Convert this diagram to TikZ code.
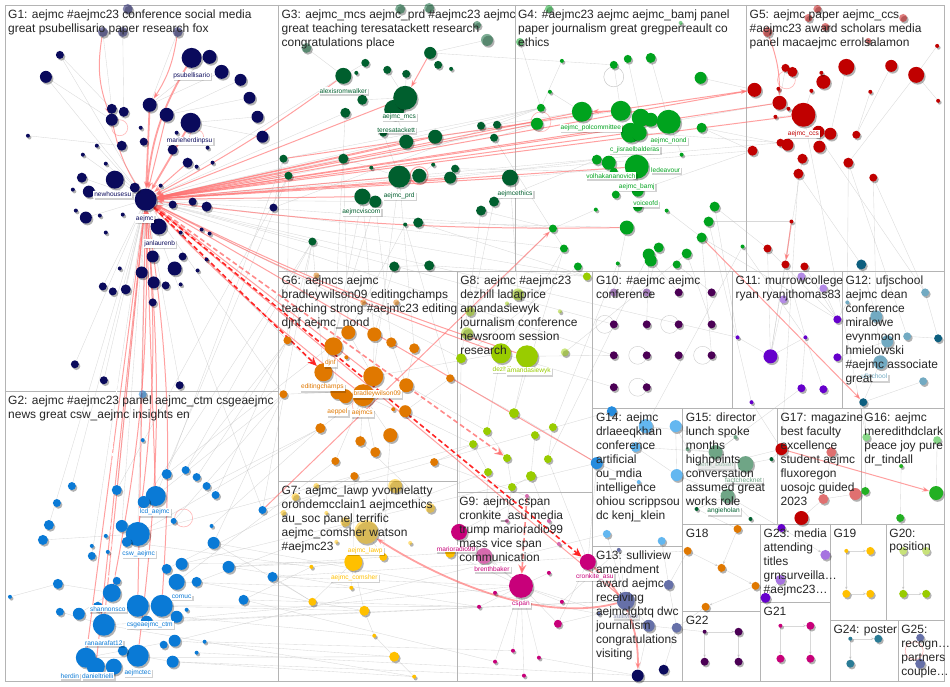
\documentclass[tikz,border=0pt]{standalone}
\usepackage{fontspec}
\setmainfont{Liberation Sans}
\usetikzlibrary{arrows.meta,shadows}
\pgfdeclarelayer{bg}\pgfdeclarelayer{edges}\pgfdeclarelayer{top}
\pgfsetlayers{bg,edges,main,top}
\definecolor{cA}{HTML}{0A0A5C}
\definecolor{cB}{HTML}{0A7AD6}
\definecolor{cC}{HTML}{005F2E}
\definecolor{cD}{HTML}{00A31E}
\definecolor{cE}{HTML}{C00000}
\definecolor{cF}{HTML}{E07800}
\definecolor{cG}{HTML}{FFC000}
\definecolor{cGl}{HTML}{FFD966}
\definecolor{cH}{HTML}{99CC00}
\definecolor{cHl}{HTML}{C8E27A}
\definecolor{cI}{HTML}{C8007A}
\definecolor{cIl}{HTML}{D66AAE}
\definecolor{cJ}{HTML}{4B0055}
\definecolor{cJl}{HTML}{A27BB8}
\definecolor{cK}{HTML}{6600CC}
\definecolor{cKl}{HTML}{B38AE6}
\definecolor{cL}{HTML}{72AAC2}
\definecolor{cLd}{HTML}{0D5F7F}
\definecolor{cM}{HTML}{63B7F0}
\definecolor{cN}{HTML}{6FA586}
\definecolor{cO}{HTML}{E07070}
\definecolor{cP}{HTML}{22B022}
\definecolor{cPl}{HTML}{88D888}
\definecolor{cQ}{HTML}{6670A8}
\definecolor{cR}{HTML}{A673E0}
\definecolor{cS}{HTML}{2A7C96}
\definecolor{cRe}{HTML}{FF6E6E}
\definecolor{frame}{HTML}{B4B4B4}
\tikzset{
 dot/.style={circle, inner sep=0pt, draw=none, minimum size=2*#1pt,
   drop shadow={shadow xshift=1.5pt, shadow yshift=-1.8pt, opacity=.3, fill=black}},
 fdot/.style={dot=#1, fill opacity=.5},
 ge/.style={draw=gray!55, line width=.35pt, opacity=.55},
 gea/.style={ge, -{Stealth[length=3pt,width=2.5pt]}},
 re/.style={draw=cRe, line width=1pt, opacity=.65, -{Stealth[length=7pt,width=5pt]}},
 reth/.style={re, line width=1.8pt},
 rdash/.style={draw=red!85!white, line width=1.6pt, dashed, dash pattern=on 5pt off 3pt, -{Stealth[length=9pt,width=8pt]}},
 rdashl/.style={rdash, draw=cRe, opacity=.8},
 lbl/.style={fill=white, inner sep=1pt, font=\fontsize{6.6}{7}\selectfont,
   drop shadow={shadow xshift=1.3pt, shadow yshift=-1.5pt, opacity=.18, fill=black}},
 flbl/.style={lbl, fill opacity=.6, text opacity=.6},
 title/.style={anchor=north west, inner sep=0pt, align=left, font=\fontsize{12}{14}\selectfont, text=black!85},
 fr/.style={draw=frame, line width=.8pt}
}
\newcommand\grp[3][]{\foreach \nm/\px/\py/\rd in {#3} {\node[dot=\rd, fill=#2, #1] (\nm) at (\px,\py) {};}}
\newcommand\fgrp[2]{\foreach \nm/\px/\py/\rd in {#2} {\node[fdot=\rd, fill=#1] (\nm) at (\px,\py) {};}}
\newcommand\ged[1]{\foreach \ea/\eb in {#1} {\draw[ge] (\ea) -- (\eb);}}
\newcommand\geda[1]{\foreach \ea/\eb in {#1} {\draw[gea] (\ea) -- (\eb);}}
\begin{document}
\begin{tikzpicture}[x=1pt,y=-1pt]
\begin{pgfonlayer}{bg}
\path[fill=white,use as bounding box] (0,0) rectangle (950,688);
\draw[fr] (5,5) rectangle (946,683);
\draw[fr] (279,5) -- (279,683);
\draw[fr] (5,392) -- (279,392);
\draw[fr] (279,272) -- (946,272);
\draw[fr] (516,5) -- (516,272);
\draw[fr] (748,5) -- (748,272);
\draw[fr] (458,272) -- (458,683);
\draw[fr] (279,482) -- (458,482);
\draw[fr] (458,493) -- (594,493);
\draw[fr] (594,272) -- (594,683);
\draw[fr] (594,409) -- (946,409);
\draw[fr] (734,272) -- (734,409);
\draw[fr] (844,272) -- (844,409);
\draw[fr] (684,409) -- (684,683);
\draw[fr] (594,547) -- (684,547);
\draw[fr] (779,409) -- (779,525);
\draw[fr] (863,409) -- (863,525);
\draw[fr] (684,525) -- (946,525);
\draw[fr] (762,525) -- (762,683);
\draw[fr] (684,613) -- (762,613);
\draw[fr] (762,604) -- (832,604);
\draw[fr] (832,525) -- (832,683);
\draw[fr] (888,525) -- (888,622);
\draw[fr] (832,622) -- (946,622);
\draw[fr] (900,622) -- (900,683);
\end{pgfonlayer}

% ---------- G1
\fgrp{cA}{f1/128/9/5,f2/103/32/5,f3/123/32/5,f4/178/32/5}
\grp{cA}{hub/146/200/11,psub/192/58/10,a2/210/57/7,a3/222/72/7,a4/241/80/6,a5/250/98/6,a6/258/117/6,a7/263/137/6,a8/60/55/4,a9/46/77/6,a10/150/105/7,a11/112/109/5,a12/124/112/5,a13/112/120/6,a14/167/115/7,mher/191/123/10,a16/122/146/5,a17/144/142/4,a18/141/128/2,a19/173/150/5,a20/188/163/5,a21/197/167/2,a22/213/163/2,a23/208/148/2,a24/177/133/2,a25/28/136/2,a26/97/146/2,a27/83/155/2,a28/106/164/2,newh/115/180/9,a30/82/178/5,a31/89/192/6,a32/73/190/2,a33/161/186/2,a34/135/188/5,a35/193/202/4,a36/207/207/5,a37/173/205/4,a38/274/208/4,a39/86/218/6,a40/76/211/2,a41/100/216/2,jan/159/227/8,a43/123/215/2,a44/202/230/2,a45/210/234/2,a46/181/233/2,a47/153/257/6,a48/183/257/4,a49/175/269/7,a50/207/260/2,a51/198/271/2,a52/142/273/6,a53/154/283/6,a54/166/286/4,a55/181/285/2,a56/103/287/4,a57/113/292/4,a58/126/290/5,a59/120/269/2,a60/153/303/4,a61/75/365/4,a62/104/381/4,a63/180/386/4,a64/106/233/2}
% ---------- G2
\fgrp{cB}{b0/143/395/4}
\grp{cB}{b1/143/441/2,b2/167/475/5,b3/186/471/4,b4/197/478/4,b5/207/487/4,b6/216/496/4,b7/72/487/4,b8/57/504/4,b9/117/491/5,lcd/156/497/10,b11/144/503/6,b12/49/526/5,b13/43/541/5,b14/122/527/6,csw/138/535/12,b16/127/543/5,b17/174/522/3,b18/106/537/2,b19/92/547/2,b20/108/553/2,b21/92/557/4,b22/212/527/2,b23/214/544/6,b24/263/511/4,b25/182/565/6,b26/167/570/5,b27/177/583/8,b28/197/583/5,b29/229/568/6,b30/273/578/5,b31/58/585/5,b32/117/582/4,b33/10/598/2,shan/112/594/9,csge/138/607/11,b36/162/607/11,b37/244/601/5,b38/60/613/4,b39/79/615/6,b40/98/608/5,b41/187/611/2,b42/177/618/6,rana/104/626/11,b44/147/623/6,b45/175/642/6,b46/164/646/4,b47/205/643/2,b48/197/654/2,b49/173/663/6,herd/86/659/10,dan/96/668/9,b52/114/668/8,aejt/138/657/11,b54/123/652/5}
% ---------- G3
\fgrp{cC}{cf1/401/9/5,cf2/430/8/5,cf3/478/25/4,cf4/488/40/6,cf5/307/48/5}
\grp{cC}{c1/431/53/6,c2/439/65/4,c3/452/69/2,c4/366/63/4,c5/388/70/4,c6/407/74/4,alex/344/76/8,c8/357/73/2,c9/363/100/5,c11/395/110/10,mcs/406/98/12,c12/346/113/5,teres/407/142/7,c14/436/137/7,c15/482/126/4,c16/498/125/4,c17/495/138/4,c18/384/133/4,c19/344/159/5,c20/284/159/4,c21/289/176/4,prd/400/177/11,c23/420/176/7,c24/434/165/2,c25/456/169/4,c26/451/178/6,eth/511/178/8,c28/372/168/2,visc/363/197/8,c30/376/202/6,c31/482/211/5,c32/495/202/5,c33/419/223/5,c34/406/225/2,c35/313/242/4,c36/395/267/5,c37/430/266/5}
% ---------- G4
\fgrp{cD}{df1/550/9/4,df2/682/23/2,df3/521/42/4}
\grp{cD}{d1/563/61/2,d2/615/65/4,d3/629/59/4,d4/652/58/5,d5/702/78/6,d6/551/92/2,d7/542/108/4,polc/583/112/10,d9/538/124/6,d10/622/111/10,d11/642/118/9,d12/652/120/7,nond/670/122/12,d14/703/128/5,d15/632/133/10,d16/640/133/8,d17/598/160/5,d18/610/163/7,d19/683/155/2,bamj/638/167/12,d21/615/172/4,d22/639/191/6,d23/617/195/4,voic/639/207/5,d25/597/210/2,d26/668/211/2,d27/716/207/5,d28/710/222/5,d29/703/238/5,d30/744/247/2,d31/554/229/4,d32/628/228/7,d33/565/249/4,d34/660/248/5,d35/650/255/6,d36/688/254/5,d37/579/267/4,d38/619/264/2,d39/652/261/6,d40/678/265/4}
% ---------- G5
\fgrp{cE}{ef1/819/9/4,ef2/810/18/4,ef3/827/27/4,ef4/905/18/4,ef5/769/32/5,ef6/870/41/3}
\grp{cE}{e1/939/46/2,e2/848/67/8,e3/893/66/6,e4/918/75/8,e5/787/68/4,e6/794/72/5,e7/825/82/7,e8/823/73/2,e9/756/90/7,e10/780/89/2,e11/813/91/2,e12/872/92/2,e13/940/101/2,e14/781/103/7,e15/790/109/2,e16/777/117/2,ccs/805/115/12,e18/820/132/6,e19/832/134/6,e20/858/135/4,e21/782/143/4,e22/789/145/6,e23/821/147/6,e24/754/151/5,e25/804/159/5,e26/850/163/5,e27/800/174/5,e28/875/178/4,e29/793/222/2,e30/769/249/4,e31/787/265/4,e32/806/267/4}
% ---------- G6
\fgrp{cF}{hf1/317/276/3,hf2/364/303/3,hf3/397/303/3}
\grp{cF}{h1/349/333/7,h2/375/335/7,h3/334/347/9,h4/392/343/5,h5/415/349/5,h6/288/341/4,h7/347/358/2,djnf/324/373/9,h9/374/377/10,h10/407/386/7,h11/451/379/4,h12/284/395/4,edit/338/393/7,h14/346/397/7,brad/364/396/11,h16/406/412/6,h17/394/410/2,h18/391/436/7,h19/321/429/5,h20/361/442/5,h21/376/453/5,h22/336/462/4,h23/435/463/4,h24/355/477/4}
% ---------- G7
\fgrp{cG}{kf1/317/487/3,kf2/396/487/7,kf3/431/509/5,kf4/296/498/4,kf5/284/514/3,kf6/327/514/2,kf7/346/523/5,lawp/367/533/12,kf9/337/543/2,kf10/411/544/2}
\grp{cG}{k1/354/563/9,k2/384/558/4,k3/312/568/2,k4/352/589/2,k5/313/603/4,k6/365/612/5,k7/375/637/2,k8/395/658/5,k9/415/678/2,k10/451/554/5}
% ---------- G8
\fgrp{cH}{lf1/519/295/6,lf2/508/304/2,lf3/471/312/5,lf4/561/312/2,lf5/468/334/6,l4/566/353/4}
\grp{cH}{l1/462/359/5,l2/502/354/10,amand/528/357/11,l5/588/277/4,l6/515/414/5,l7/488/432/4,l8/536/436/4,l9/554/428/4,l10/474/445/4,l11/508/459/4,l12/549/460/4,l13/489/473/4,l14/532/477/5,l15/513/488/4}
% ---------- G9
\grp{cIl}{brent/485/557/8,m3/508/522/2,m4/528/497/2,m5/550/522/2,m6/560/545/2}
\grp{cI}{mario/460/533/8,cspan/522/587/12,cron/589/563/8,m9/550/574/2,m10/496/594/2,m11/480/608/2,m12/563/603/2,m13/559/625/4,m14/514/652/2,m15/496/663/2,m16/540/659/2,m17/525/677/2}
% ---------- G10
\grp{cJl}{p1/615/293/4,p2/648/293/4}
\grp{cJ}{p3/680/293/4,p4/713/293/4,p5/615/325/4,p6/648/325/4,p7/680/325/4,p8/713/325/4,p9/615/356/4,p10/648/356/4,p11/680/356/4,p12/713/356/4,p13/615/388/4,p14/648/388/4}
% ---------- G11
\grp{cKl}{qf1/803/277/4,qf2/825/289/4,qf3/785/300/4}
\grp{cK}{q1/839/320/4,q2/739/338/2,q3/807/338/2,q4/772/357/7,q5/839/358/4,q6/803/389/4,q7/825/390/4,q8/753/403/2}
% ---------- G12
\grp{cL}{r1/849/303/2,r2/927/293/4,r3/878/317/6,r4/889/342/6,r5/909/337/4,ufj/882/363/7,r7/925/382/4}
\grp{cLd}{r8/863/265/5,r9/940/339/4,r10/865/403/4}
% ---------- G14
\grp{cB!70!cM}{s1/613/412/5,s5/598/464/6}
\grp{cM}{s2/647/427/7,s3/677/427/6,s4/637/448/5,s6/678/476/6,s7/640/483/2,s8/608/535/4,s9/663/542/4}
% ---------- G15
\grp{cN}{t1/717/453/7,t2/747/465/8,t3/689/450/2,t4/737/438/2,t5/729/497/7}
\grp{cC}{t6/773/460/2,t7/698/510/2,t8/752/520/2}
% ---------- G17
\grp{cE}{u1/783/450/6,u5/803/519/7}
\grp{cO}{u2/833/453/5,u3/857/495/6,u4/825/500/5}
% ---------- G16
\grp{cPl}{v1/868/438/4,v2/939/441/4}
\grp{cP}{v3/903/467/2,v4/867/492/4,v5/938/494/7,v6/902/519/4}
% ---------- G13
\grp{cQ}{w1/620/551/2,w2/670/586/5,w3/627/602/9,w4/650/627/6,w5/678/629/5,w8/600/615/2}
\grp{cA}{w6/639/677/6,w7/665/671/5}
% ---------- small groups
\grp{cF}{x1/739/530/4,x2/689/552/4,x3/723/569/4,x4/757/587/4,x5/707/608/4}
\grp{cJ}{y1/706/633/2,y2/740/633/4,y3/706/663/4,y4/740/663/4}
\grp{cR}{z1/827/556/5,z2/782/581/5}
\grp{cK}{z3/767/599/5,z4/783/529/4}
\grp{cI}{aa1/782/627/2,aa2/812/627/4,aa3/782/660/4,aa4/812/660/4}
\grp{cG}{ab1/848/552/2,ab2/872/552/4,ab3/848/595/4,ab4/872/595/4}
\grp{cHl}{ac1/905/552/4,ac2/928/552/4}
\grp{cH}{ac3/905/595/4,ac4/928/595/4}
\grp{cS}{ad1/852/640/2,ad2/880/640/4,ad3/852/665/4}
\grp{cQ}{ae1/922/639/4,ae2/922/665/5}

% ---------- edges
\begin{pgfonlayer}{edges}
\ged{hub/c20,hub/c21,hub/c35,hub/alex,hub/c12,hub/c19,hub/d7,hub/d31,hub/e24,hub/h6,hub/h12,hub/l1,hub/l5,hub/csw,hub/b24,hub/p5,hub/q2,hub/p9,hub/c30,hub/d33,hub/e21}
\ged{a8/a11,a9/a13,a25/a16,a26/hub,a27/hub,a28/hub,a30/hub,a31/hub,a39/hub,a47/hub,a52/hub,a56/hub,a58/hub,a60/hub,a61/hub,a62/hub,a63/hub,a2/a10,a3/a10,a4/a14,a5/a14,a6/mher,a7/mher,a38/d7,a38/c20,f2/a11,f3/a12,f4/a10,a9/hub,a8/hub}
\ged{b24/c35,b23/h12,b30/k5,b37/k3,b29/k1,b22/h19,b6/h6,csw/l10,lcd/c21,csge/k6,b36/m11,b45/k8,b49/k9,b44/cspan,b27/h22,b28/l13,b25/s5,rana/w3,b2/c20,b3/c35,b4/h6,b5/h19,b17/h12,b9/hub,b7/hub,b12/hub,b13/csw,b31/shan,b38/rana,b39/shan,b33/b31,b24/s1,b30/x2,b23/w8,b37/m11,b29/k10,aejt/b49,herd/b45}
\ged{b2/h1,b3/h6,b9/c21,b11/c35,lcd/h12,b14/hub,csw/h19,b16/k3,b21/hub,b23/k5,b25/k1,b26/h24,b27/k4,b28/k6,b29/m11,b30/cspan,b37/m15,b42/k7,b44/w3,b45/s8,b47/m14,b48/w6,b49/m17,rana/k9,herd/k8}
\ged{c14/d10,c16/polc,c17/d9,eth/bamj,c31/d31,c32/d17,c33/d32,c35/h6,c34/h1,c30/djnf,visc/h3,prd/h9,c1/d2,c4/alex,c5/mcs,c6/mcs,c9/mcs,c11/teres,c18/prd,c24/c23,c20/d7,c21/d9,c19/prd,cf5/alex,cf4/c1,c36/c37,c37/l5,c36/h2}
\ged{c12/h3,c19/h1,c21/h6,c35/djnf,visc/h2,c30/h4,prd/h5,c33/l5,c34/h11,c31/l1,c32/lf5,eth/lf1,c26/d17,c25/d21,c15/d7,c17/d33}
\ged{d5/e9,nond/e14,d14/e24,d27/e30,d29/q1,d36/l4,d30/s2,d40/p4,d35/l12,d33/l6,d28/e29,d1/d7,d2/d10,d3/d11,d4/nond,d37/l1,d38/l9,d39/p3,df3/d7,d6/polc,d25/d31,d26/d29,d19/nond}
\ged{d31/lf3,d33/l2,d32/p1,d34/p2,d35/p6,d36/p8,d29/p12,d27/q2,d28/q8,d30/q3}
\ged{e2/e19,e3/e20,e4/e26,e28/r3,e29/q4,e30/q4,e31/q3,e32/q1,e26/r1,ccs/v1,ccs/r2,e27/u1,e1/e4,e13/e4,e12/e20,e5/e14,e10/e14,e11/ccs,e15/ccs,e16/ccs}
\ged{e24/d22,e21/d16,e22/d14,e30/q1,e25/q4,e27/r8,e28/r2,e26/r5}
\ged{q4/q2,q4/q3,q3/q6,q3/q7,q5/r4,q8/u1,q6/t1,qf3/q4,qf2/q1,q1/r1}
\ged{r3/ufj,r4/ufj,r5/r9,r2/r9,r7/r10,ufj/r10,r10/v1,r8/r3}
\ged{h1/h9,h2/h9,h3/edit,h4/h10,h5/h10,h11/h16,h18/brad,h19/brad,h20/brad,h21/brad,h22/brad,h23/l10,h24/k1,h6/djnf,h12/edit,h17/brad}
\ged{h9/l2,h10/l7,h16/l10,h18/k2,h20/kf3,h23/m4,h11/l6}
\ged{k1/k6,k6/k7,k7/k8,k8/k9,k5/k1,k3/k1,k4/k1,k10/cspan,k2/lawp}
\ged{l6/amand,l7/l11,l8/l14,l9/l12,l10/l13,l11/l15,l14/l15,l2/l7,l6/s5}
\ged{l1/mario,l13/brent,l15/m3,l12/cron,l14/m5,amand/p9,l2/p13}
\ged{cspan/m10,cspan/m11,cspan/m12,cspan/m13,cspan/m14,cspan/m15,cspan/m16,cspan/m17,cspan/m9,cron/m13,mario/m4,brent/cspan,mario/cspan}
\ged{m12/w1,m13/w8,cron/s5,cspan/w4,m16/w6}
\ged{s2/s4,s3/s6,s4/s6,s5/s7,s8/w3,s9/w2,w3/w4,w2/w5,w4/w6,w5/w7,w1/w3,s3/t3,s6/t5}
\ged{s2/t4,s6/u1,s4/t1,w2/x2,w5/x5,w4/y1,t5/z4,t7/x1}
\ged{t1/t3,t2/t5,t2/t6,t5/t7,t5/t8,u2/u4,u3/u4,u4/u5,v3/v6,v1/v4,v2/v5,t4/t1,u1/t6}
\geda{x2/x3,x3/x4,x4/x5,x1/x3,y1/y2,y1/y3,y2/y4,z4/z1,z2/z3,aa1/aa2,aa1/aa3,aa2/aa4,ab1/ab2,ab1/ab3,ab3/ab4,ac1/ac3,ac3/ac4,ad1/ad2,ad1/ad3}
\foreach \ea in {p5,p7,p10,p12,p14} {\draw[draw=gray!40, line width=.4pt] (\ea) ++(-9,0) circle (9);}
% red edges into hub
\foreach \ea in {prd,mcs,c14,eth,polc,d9,nond,bamj,e9,ccs,c26,h9,s5,w3,lcd,rana,csge,herd,dan,teres,visc,d15,e14,c21}
  {\draw[re] (\ea) -- (hub);}
\foreach \ea in {csw,shan,b36,aejt}
  {\draw[re] (\ea) to[bend right=6] (hub);}
\foreach \ea in {brad,amand,l2,d32,alex}
  {\draw[re] (\ea) to[bend left=4] (hub);}
\draw[reth] (psub) to[bend right=12] (hub);
\draw[reth] (a10) -- (hub);
\draw[reth] (mher) -- (hub);
\draw[re] (a14) -- (hub);
\draw[re] (a20) -- (hub);
\draw[re] (a13) to[bend right=10] (hub);
\draw[re] (f2) to[bend right=15] (a13);
\draw[re] (f4) to[bend left=12] (a10);
\draw[re] (c1) -- (mcs);
\draw[re] (d10) -- (polc);
\draw[re] (e29) -- (e31);
\draw[re] (ef5) to[bend left=10] (e14);
\draw[re] (d29) -- (r10);
\draw[re] (u1) -- (v5);
\draw[re] (c20) -- (e9);
\draw[re] (b24) -- (d31);
% dashed red edges
\draw[rdash] (hub) -- (djnf);
\draw[rdash] (hub) -- (cron);
\draw[rdashl] (m4) -- (cspan);
\draw[rdashl] (hub) -- (l11);
\draw[rdashl, draw=white, dash pattern=on 3pt off 4pt, line width=1pt, opacity=1] (hub) to[bend right=6] (shan);
% curves
\draw[reth] (w3) .. controls (540,625) and (440,580) .. (lawp);
\draw[reth] (cron) .. controls (620,590) and (640,620) .. (w6);
% self loops
\draw[draw=cRe, line width=1pt, opacity=.6] (c23) circle (9);
\draw[draw=cRe, line width=.6pt, opacity=.5] (a13) ++(8,8) circle (8);
\draw[draw=cRe, line width=.6pt, opacity=.5] (mher) ++(6,14) circle (7);
\draw[draw=cRe, line width=.6pt, opacity=.5] (e6) ++(-6,8) circle (9);
\draw[draw=cRe, line width=.6pt, opacity=.5] (d7) ++(0,14) circle (10);
\draw[draw=cRe, line width=.6pt, opacity=.5] (brad) ++(-2,10) circle (9);
\draw[draw=cRe, line width=.6pt, opacity=.5] (b17) ++(10,-3) circle (9);
\draw[draw=cRe, line width=.6pt, opacity=.5] (ae1) ++(-6,13) circle (9);
\draw[draw=gray!50, line width=.4pt] (d2) ++(0,12) circle (10);
\end{pgfonlayer}

% ---------- labels
\begin{pgfonlayer}{top}
\node[lbl, text=cA] (L1) at (192,76) {psubellisario};
\node[lbl, text=cA] (L2) at (190,141) {marieherdinpsu};
\node[lbl, text=cA] (L3) at (113,195) {newhousesu};
\node[lbl, text=cA] (L4) at (145,219) {aejmc};
\node[lbl, text=cA] (L5) at (160,244) {janlaurenb};
\node[lbl, text=cB] (L6) at (155,513) {lcd\_aejmc};
\node[lbl, text=cB] (L7) at (139,555) {csw\_aejmc};
\node[lbl, text=cB] (L8) at (108,610) {shannonsco};
\node[lbl, text=cB] (L9) at (182,598) {comuc};
\node[lbl, text=cB] (L10) at (150,626) {csgeaejmc\_ctm};
\node[lbl, text=cB] (L11) at (104,644) {ranaarafat12};
\node[lbl, text=cB] (L12) at (138,674) {aejmctec};
\node[lbl, text=cB] (L13) at (70,677) {herdin};
\node[lbl, text=cB] (L14) at (98,677) {danieltrielli};
\node[lbl, text=cC] (L15) at (344,91) {alexisromwalker};
\node[lbl, text=cC] (L16) at (400,117) {aejmc\_mcs};
\node[lbl, text=cC] (L17) at (397,130) {teresatackett};
\node[lbl, text=cC] (L18) at (400,196) {aejmc\_prd};
\node[lbl, text=cC] (L19) at (362,212) {aejmcviscom};
\node[lbl, text=cC] (L20) at (516,194) {aejmcethics};
\node[lbl, text=cD] (L21) at (592,128) {aejmc\_polcommittee};
\node[lbl, text=cD] (L22) at (670,141) {aejmc\_nond};
\node[lbl, text=cD] (L23) at (636,150) {c\_jisraelbalderas};
\node[lbl, text=cD] (L24) at (667,170) {ledeavour};
\node[lbl, text=cD] (L25) at (612,176) {volhakananovich};
\node[lbl, text=cD] (L26) at (638,187) {aejmc\_bamj};
\node[lbl, text=cD] (L27) at (647,204) {voiceofd};
\node[lbl, text=cE] (L28) at (805,134) {aejmc\_ccs};
\node[lbl, text=cF] (L29) at (331,364) {djnf};
\node[lbl, text=cF] (L30) at (323,388) {editingchamps};
\node[lbl, text=cF] (L31) at (378,395) {bradleywilson09};
\node[lbl, text=cF] (L32) at (338,413) {aeppel};
\node[lbl, text=cF] (L33) at (363,414) {aejmcs};
\node[lbl, text=cG] (L34) at (366,552) {aejmc\_lawp};
\node[lbl, text=cG] (L35) at (355,579) {aejmc\_comsher};
\node[lbl, text=cH] (L36) at (503,370) {dezhill};
\node[lbl, text=cH] (L37) at (530,372) {amandasiewyk};
\node[lbl, text=cI] (L38) at (457,550) {marioradio99};
\node[lbl, text=cI] (L39) at (493,570) {brenthbaker};
\node[lbl, text=cI] (L40) at (522,606) {cspan};
\node[lbl, text=cI] (L41) at (596,578) {cronkite\_asu};
\node[lbl, text=cL] (L42) at (876,378) {ufjschool};
\node[flbl, text=cQ] (L43) at (627,617) {sulliview};
\node[flbl, text=cN] (L44) at (717,466) {kemi\_busari};
\node[lbl, text=cN] (L45) at (745,481) {factchecknet};
\node[lbl, text=cC] (L46) at (725,512) {angieholan};

% ---------- titles
\node[title] (T1) at (8,9.5) {G1: aejmc \#aejmc23 conference social media\\great psubellisario paper research fox};
\node[title] (T2) at (8,396.5) {G2: aejmc \#aejmc23 panel aejmc\_ctm csgeaejmc\\news great csw\_aejmc insights en};
\node[title] (T3) at (282,9.5) {G3: aejmc\_mcs aejmc\_prd \#aejmc23 aejmc\\great teaching teresatackett research\\congratulations place};
\node[title] (T4) at (519,9.5) {G4: \#aejmc23 aejmc aejmc\_bamj panel\\paper journalism great gregperreault co\\ethics};
\node[title] (T5) at (751,9.5) {G5: aejmc paper aejmc\_ccs\\\#aejmc23 award scholars media\\panel macaejmc errolsalamon};
\node[title] (T6) at (282,276.5) {G6: aejmcs aejmc\\bradleywilson09 editingchamps\\teaching strong \#aejmc23 editing\\djnf aejmc\_nond};
\node[title] (T8) at (461,276.5) {G8: aejmc \#aejmc23\\dezhill ladaprice\\amandasiewyk\\journalism conference\\newsroom session\\research};
\node[title] (T10) at (597,276.5) {G10: \#aejmc aejmc\\conference};
\node[title] (T11) at (737,276.5) {G11: murrowcollege\\ryan ryanjthomas83};
\node[title] (T12) at (847,276.5) {G12: ufjschool\\aejmc dean\\conference\\miralowe\\evynmoon\\hmielowski\\\#aejmc associate\\great};
\node[title] (T7) at (282,486.5) {G7: aejmc\_lawp yvonnelatty\\orondemcclain1 aejmcethics\\au\_soc panel terrific\\aejmc\_comsher watson\\\#aejmc23};
\node[title] (T9) at (460,497.5) {G9: aejmc cspan\\cronkite\_asu media\\trump marioradio99\\mass vice span\\communication};
\node[title] (T14) at (597,413.5) {G14: aejmc\\drlaeeqkhan\\conference\\artificial\\ou\_mdia\\intelligence\\ohiou scrippsou\\dc kenj\_klein};
\node[title] (T15) at (687,413.5) {G15: director\\lunch spoke\\months\\highpoints\\conversation\\assumed great\\works role};
\node[title] (T17) at (782,413.5) {G17: magazine\\best faculty\\excellence\\student aejmc\\fluxoregon\\uosojc guided\\2023};
\node[title] (T16) at (866,413.5) {G16: aejmc\\meredithdclark\\peace joy pure\\dr\_tindall};
\node[title] (T13) at (597,551.5) {G13: sulliview\\amendment\\award aejmc\\receiving\\aejmclgbtq dwc\\journalism\\congratulations\\visiting};
\node[title] (T18) at (687,529.5) {G18};
\node[title] (T23) at (765,529.5) {G23: media\\attending\\titles\\grnsurveilla…\\\#aejmc23…};
\node[title] (T19) at (835,529.5) {G19};
\node[title] (T20) at (891,529.5) {G20:\\position};
\node[title] (T22) at (687,617.5) {G22};
\node[title] (T21) at (765,608.5) {G21};
\node[title] (T24) at (835,626.5) {G24: poster};
\node[title] (T25) at (903,626.5) {G25:\\recogn…\\partners\\couple…};
\end{pgfonlayer}
\end{tikzpicture}
\end{document}
